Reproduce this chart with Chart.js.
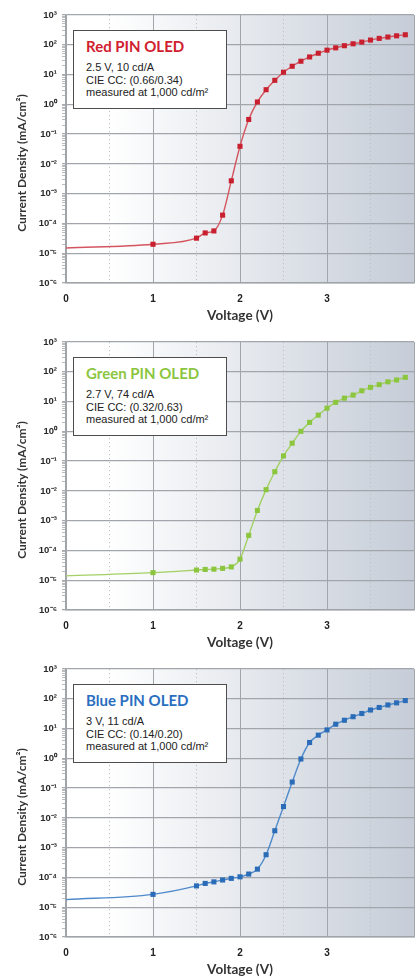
<!DOCTYPE html>
<html>
<head>
<meta charset="utf-8">
<title>PIN OLED current density</title>
<script src="https://cdn.jsdelivr.net/npm/chart.js@4/dist/chart.umd.min.js"></script>
<style>
  html, body { margin: 0; padding: 0; background: #fff; overflow: hidden; width: 417px; height: 977px; }
  .panel { position: absolute; left: 0; width: 424px; height: 327px; }
  .panel canvas { position: absolute; left: 0; top: 0; }
  .note {
    position: absolute; left: 73px; top: 30px; width: 154px; height: 79px;
    box-sizing: border-box; background: #fff; border: 1px solid #4d4d4d;
    padding: 6px 0 0 12px; z-index: 2;
  }
  .note h2 { margin: 0; font: bold 15px/18px Lato, "Open Sans", sans-serif; }
  .note p { margin: 6px 0 0 0; font: 11px/12.5px "Liberation Sans", Arial, sans-serif; color: #222; }
  .ytitle {
    position: absolute; left: 21px; top: 163px; z-index: 2;
    transform: translate(-50%, -50%) rotate(-90deg);
    white-space: nowrap; color: #333;
    font: bold 12px Lato, "Open Sans", sans-serif;
  }
</style>
</head>
<body>

<div class="panel" style="top:0px">
  <canvas id="red-chart" width="424" height="327"></canvas>
  <div class="ytitle">Current Density (mA/cm²)</div>
  <div class="note"><h2 style="color:#d0202f">Red PIN OLED</h2>
    <p>2.5 V, 10 cd/A<br>CIE CC: (0.66/0.34)<br>measured at 1,000 cd/m²</p></div>
</div>
<div class="panel" style="top:327px">
  <canvas id="green-chart" width="424" height="327"></canvas>
  <div class="ytitle">Current Density (mA/cm²)</div>
  <div class="note"><h2 style="color:#8cc63f">Green PIN OLED</h2>
    <p>2.7 V, 74 cd/A<br>CIE CC: (0.32/0.63)<br>measured at 1,000 cd/m²</p></div>
</div>
<div class="panel" style="top:654px">
  <canvas id="blue-chart" width="424" height="327"></canvas>
  <div class="ytitle">Current Density (mA/cm²)</div>
  <div class="note"><h2 style="color:#2a6ebf">Blue PIN OLED</h2>
    <p>3 V, 11 cd/A<br>CIE CC: (0.14/0.20)<br>measured at 1,000 cd/m²</p></div>
</div>

<script>
// ── data ────────────────────────────────────────────────────────────────────
const VOLTAGE = [0, 1, 1.5, 1.6, 1.7, 1.8, 1.9, 2.0, 2.1, 2.2, 2.3, 2.4, 2.5, 2.6,
                 2.7, 2.8, 2.9, 3.0, 3.1, 3.2, 3.3, 3.4, 3.5, 3.6, 3.7, 3.8, 3.9];

const RED_J = [1.5e-5, 2.0e-5, 3.2e-5, 4.8e-5, 5.6e-5, 1.9e-4, 2.7e-3, 0.039, 0.31, 1.2,
               3.1, 6.4, 12, 19, 28, 39, 52, 66, 79, 93, 108, 123, 144, 164, 182, 200, 217];

const GREEN_J = [1.4e-5, 1.8e-5, 2.2e-5, 2.3e-5, 2.35e-5, 2.5e-5, 2.8e-5, 5.1e-5, 3.2e-4, 2.2e-3,
                 0.011, 0.044, 0.15, 0.40, 1.0, 2.0, 3.5, 6.0, 9.4, 13, 16.5, 23, 30, 37, 46, 53, 65];

const BLUE_J = [1.8e-5, 2.7e-5, 5.2e-5, 6.3e-5, 7.1e-5, 8.2e-5, 9.3e-5, 1.05e-4, 1.3e-4, 1.9e-4,
                5.8e-4, 3.7e-3, 0.024, 0.16, 0.95, 3.4, 6.0, 9.0, 14, 19, 25, 32, 42, 51, 62, 73, 87];

const X_TICKS  = [0, 0.5, 1, 1.5, 2, 2.5, 3, 3.5, 4];
const X_LABELS = ['0', '', '1', '', '2', '', '3', '', ''];

const Y_DECADES = [-6, -5, -4, -3, -2, -1, 0, 1, 2, 3];
const Y_LABELS  = ['10⁻⁶', '10⁻⁵', '10⁻⁴', '10⁻³', '10⁻²', '10⁻¹', '10⁰', '10¹', '10²', '10³'];
const Y_MINOR   = [2, 3, 4, 5, 6, 7, 8, 9];

// ── helpers ─────────────────────────────────────────────────────────────────
const yTickValues = [];
Y_DECADES.forEach((d, i) => {
  yTickValues.push(Math.pow(10, d));
  if (i < Y_DECADES.length - 1) Y_MINOR.forEach(k => yTickValues.push(k * Math.pow(10, d)));
});

function decadeIndex(v) {
  const e = Math.log10(v);
  const r = Math.round(e);
  return Math.abs(e - r) < 1e-6 ? Y_DECADES.indexOf(r) : -1;
}

// light-to-blue-grey wash behind the plot
const plotBackground = {
  id: 'plotBackground',
  beforeDraw(chart) {
    const { ctx, chartArea: a } = chart;
    const g = ctx.createLinearGradient(a.left, 0, a.right, 0);
    g.addColorStop(0, '#ffffff');
    g.addColorStop(0.12, '#ffffff');
    g.addColorStop(1, '#c6cdd8');
    ctx.save();
    ctx.fillStyle = g;
    ctx.fillRect(a.left, a.top, a.right - a.left, a.bottom - a.top);
    ctx.restore();
  }
};

function makePanel(canvasId, values, markerColor, lineColor) {
  const ctx = document.getElementById(canvasId).getContext('2d');
  return new Chart(ctx, {
    type: 'line',
    data: {
      datasets: [{
        data: VOLTAGE.map((v, i) => ({ x: v, y: values[i] })),
        borderColor: lineColor,
        borderWidth: 1.4,
        backgroundColor: markerColor,
        pointBackgroundColor: markerColor,
        pointBorderWidth: 0,
        pointStyle: 'rect',
        pointRadius: (c) => (c.raw && c.raw.x === 0 ? 0 : 3.6),
        cubicInterpolationMode: 'monotone'
      }]
    },
    options: {
      responsive: false,
      animation: false,
      devicePixelRatio: 1,
      layout: { padding: { top: 15, right: 0, bottom: 0, left: 0 } },
      plugins: { legend: { display: false }, tooltip: { enabled: false } },
      scales: {
        x: {
          type: 'linear',
          min: 0, max: 4,
          afterBuildTicks: (s) => { s.ticks = X_TICKS.map(v => ({ value: v })); },
          afterFit: (s) => { s.height = 44; },
          ticks: {
            autoSkip: false, maxRotation: 0, padding: 10,
            color: '#222',
            font: { family: '"Liberation Sans", Arial, sans-serif', size: 10, weight: 'bold' },
            callback: (v) => X_LABELS[X_TICKS.indexOf(v)] ?? ''
          },
          grid: {
            drawTicks: false,
            color: (c) => (c.tick && Number.isInteger(c.tick.value) ? '#a2a5aa' : '#bcc0c6'),
            lineWidth: 1
          },
          border: {
            color: '#a0a3a8', width: 1.5,
            dash: (c) => (c.tick && !Number.isInteger(c.tick.value) ? [1.2, 2.8] : [])
          },
          title: {
            display: true, text: 'Voltage (V)', color: '#333',
            font: { family: 'Lato, "Open Sans", sans-serif', size: 13.5, weight: 'bold' },
            padding: { top: 0, bottom: 3 }
          }
        },
        y: {
          type: 'logarithmic',
          min: 1e-6, max: 1e3,
          afterBuildTicks: (s) => { s.ticks = yTickValues.map(v => ({ value: v })); },
          afterFit: (s) => { s.width = 66; },
          ticks: {
            autoSkip: false, padding: 5,
            color: '#2a2a2a',
            font: { family: '"Liberation Sans", Arial, sans-serif', size: 9.5, weight: 'bold' },
            callback: (v) => { const i = decadeIndex(v); return i >= 0 ? Y_LABELS[i] : ''; }
          },
          grid: {
            tickLength: 4,
            tickColor: '#a8abb0',
            color: (c) => (c.tick && decadeIndex(c.tick.value) >= 0 ? '#a2a6ac' : 'rgba(0,0,0,0)'),
            lineWidth: (c) => (c.tick && decadeIndex(c.tick.value) >= 0 ? 1.3 : 0.8)
          },
          border: { color: '#a0a3a8', width: 1.5 },
          title: { display: false }
        }
      }
    },
    plugins: [plotBackground]
  });
}

makePanel('red-chart', RED_J, '#c8202e', '#d4555f');
makePanel('green-chart', GREEN_J, '#8cc63f', '#a2d064');
makePanel('blue-chart', BLUE_J, '#2b6cb8', '#4f8acb');
</script>
</body>
</html>
